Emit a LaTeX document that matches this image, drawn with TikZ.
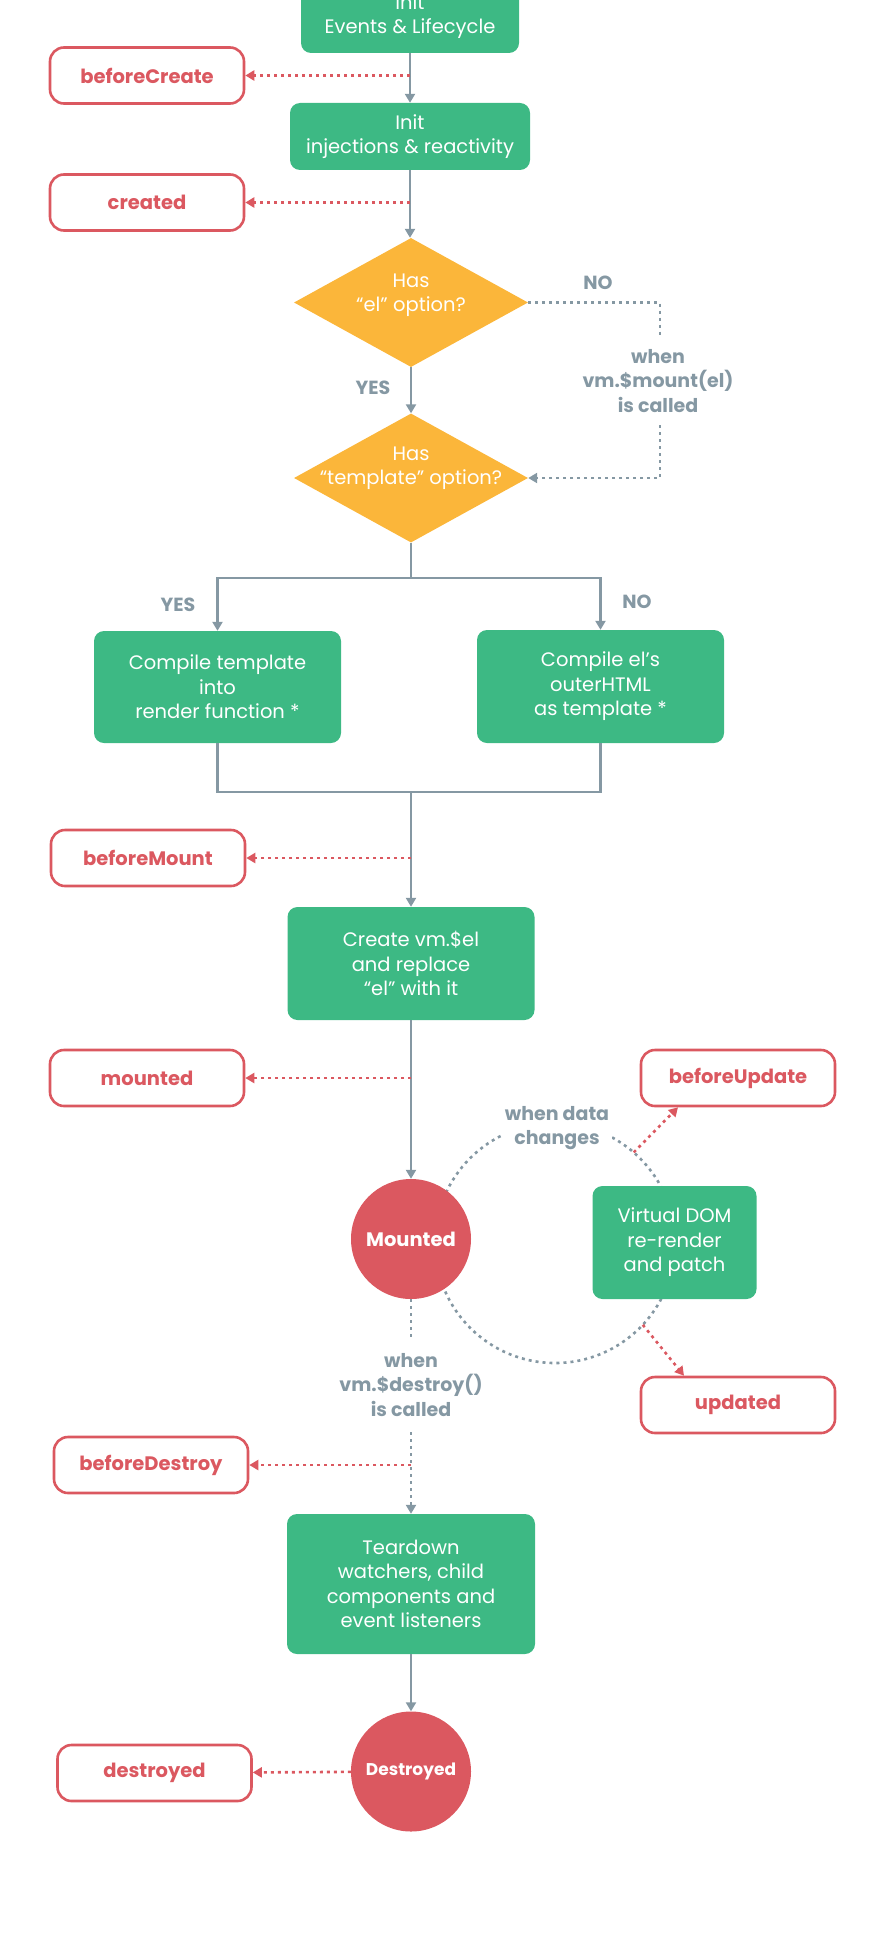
\documentclass[tikz,border=0pt]{standalone}
\usepackage{fontspec}
\setmainfont{Poppins}
\usetikzlibrary{shapes.geometric,arrows.meta,calc}
\definecolor{vgreen}{HTML}{3DB984}
\definecolor{vyellow}{HTML}{FBB63A}
\definecolor{vred}{HTML}{DB5860}
\definecolor{vgray}{HTML}{8598A3}
\begin{document}
\begin{tikzpicture}[x=1pt,y=-1pt,
  proc/.style={rectangle, rounded corners=10pt, fill=vgreen, text=white, align=center,
    font=\fontsize{19.5}{24.5}\selectfont, inner sep=0pt},
  hook/.style={rectangle, rounded corners=14pt, draw=vred, line width=2.6pt, fill=white,
    text=vred, font=\fontsize{19.5}{22}\selectfont\bfseries, minimum width=194pt,
    minimum height=56pt, inner sep=0pt},
  decision/.style={diamond, fill=vyellow, minimum width=234pt, minimum height=129pt,
    inner sep=0pt},
  dtext/.style={text=white, align=center, font=\fontsize{19.5}{24}\selectfont},
  state/.style={circle, fill=vred, minimum size=120pt, inner sep=0pt, text=white,
    font=\fontsize{19.5}{22}\selectfont\bfseries},
  glabel/.style={text=vgray, align=center, inner sep=1pt,
    font=\fontsize{19}{24.5}\selectfont\bfseries},
  tip/.style={-{Triangle[length=9pt,width=10pt]}},
  line/.style={draw=vgray, line width=2.6pt},
  flow/.style={line, tip},
  grayd/.style={draw=vgray, line width=2.6pt, dash pattern=on 3pt off 4pt},
  reddot/.style={draw=vred, line width=2.6pt, dash pattern=on 3pt off 4pt, tip},
]
\useasboundingbox (0,0) rectangle (874,1945);
\clip (0,0) rectangle (874,1945);

% update loop around the mounted state
\draw[grayd] (555,1243) circle[radius=120pt];

% creation
\node[proc, minimum width=218pt, minimum height=73pt] (init1) at (410,16.5) {Init\\Events \& Lifecycle};
\node[hook] (bc) at (147,75.5) {beforeCreate};
\node[proc, minimum width=240pt, minimum height=67pt] (init2) at (410,136.5) {Init\\injections \& reactivity};
\node[hook] (cr) at (147,202.5) {created};

% template decisions
\node[decision] (d1) at (411,302.5) {};
\node[dtext] (d1t) at (411,295) {Has\\“el” option?};
\node[glabel] (no1) at (598,283) {NO};
\coordinate (m1) at (660,338);
\coordinate (m2) at (660,425);
\node[glabel] (mnt) at (658,381) {when\\vm.\$mount(el)\\is called};
\node[glabel] (yes1) at (373,388) {YES};
\node[decision] (d2) at (411,478) {};
\node[dtext] (d2t) at (411,468) {Has\\“template” option?};
\coordinate (split) at (411,578);
\node[glabel] (yes2) at (178,605) {YES};
\node[glabel] (no2) at (637,602) {NO};
\node[proc, minimum width=247pt, minimum height=112pt] (c1) at (217.5,687) {Compile template\\into\\render function *};
\node[proc, minimum width=247pt, minimum height=113pt] (c2) at (600.5,686.5) {Compile el’s\\outerHTML\\as template *};
\coordinate (merge) at (411,792);

% mounting
\node[hook] (bm) at (148,858) {beforeMount};
\node[proc, minimum width=247pt, minimum height=113pt] (create) at (411,963.5) {Create vm.\$el\\and replace\\“el” with it};
\node[hook] (mtd) at (147,1078) {mounted};
\node[hook] (bu) at (738,1078) {beforeUpdate};
\node[state] (mounted) at (411,1239) {Mounted};
\node[proc, minimum width=164pt, minimum height=113pt] (vdom) at (674.5,1242.5) {Virtual DOM\\re-render\\and patch};
\node[glabel, fill=white, inner sep=3pt] (wdc) at (557,1128) {when data\\changes};
\node[hook] (upd) at (738,1405) {updated};
\coordinate (a1) at (633.7,1152.4);
\coordinate (a2) at (642.8,1324.8);

% destruction
\coordinate (k1) at (411,1338);
\coordinate (k2) at (411,1432);
\node[glabel] (dst) at (411,1385) {when\\vm.\$destroy()\\is called};
\node[hook] (bd) at (151,1465) {beforeDestroy};
\node[proc, minimum width=248pt, minimum height=140pt] (tear) at (411,1584) {Teardown\\watchers, child\\components and\\event listeners};
\node[state, font=\fontsize{17}{20}\selectfont\bfseries] (destroyed) at (411,1771.5) {Destroyed};
\node[hook] (dd) at (154.5,1773) {destroyed};

% main flow
\draw[flow] (init1) -- (init2);
\draw[reddot] (init1.south |- bc) -- (bc);
\draw[flow] (init2) -- (init2.south |- d1.north);
\draw[reddot] (init2.south |- cr) -- (cr);
\draw[grayd] (d1.east) -| (m1);
\draw[grayd, tip] (m2) |- (d2.east);
\draw[flow] (d1) -- (d2);
\draw[line] (d2.south) -- (split);
\draw[flow] (split) -| (c1.north);
\draw[flow] (split) -| (c2.north);
\draw[line] (c1.south) |- (merge);
\draw[line] (c2.south) |- (merge);
\draw[flow] (merge) -- (create);
\draw[reddot] (merge |- bm) -- (bm);
\draw[flow] (create) -- (mounted);
\draw[reddot] (create.south |- mtd) -- (mtd);
\draw[reddot] (a1) -- ([xshift=-60pt]bu.south);
\draw[reddot] (a2) -- ([xshift=-54pt]upd.north);
\draw[grayd] (mounted) -- (k1);
\draw[grayd, tip] (k2) -- (tear);
\draw[reddot] (k2 |- bd) -- (bd);
\draw[flow] (tear) -- (destroyed);
\draw[reddot] (destroyed) -- (dd);
\end{tikzpicture}
\end{document}
